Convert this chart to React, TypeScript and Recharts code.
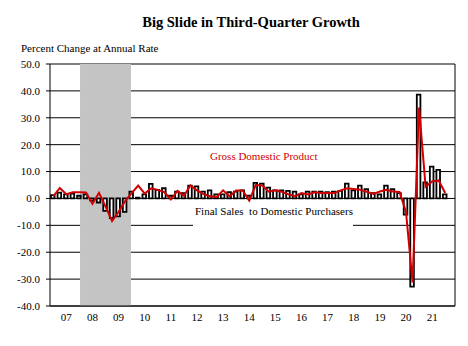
import React from "react";
import {
  ComposedChart,
  Bar,
  Line,
  XAxis,
  YAxis,
  CartesianGrid,
  ReferenceArea,
  ReferenceLine,
} from "recharts";

// Quarters on the category axis (last one left empty, as in the reference)
const quarters = [
  "2006Q3", "2006Q4",
  "2007Q1", "2007Q2", "2007Q3", "2007Q4",
  "2008Q1", "2008Q2", "2008Q3", "2008Q4",
  "2009Q1", "2009Q2", "2009Q3", "2009Q4",
  "2010Q1", "2010Q2", "2010Q3", "2010Q4",
  "2011Q1", "2011Q2", "2011Q3", "2011Q4",
  "2012Q1", "2012Q2", "2012Q3", "2012Q4",
  "2013Q1", "2013Q2", "2013Q3", "2013Q4",
  "2014Q1", "2014Q2", "2014Q3", "2014Q4",
  "2015Q1", "2015Q2", "2015Q3", "2015Q4",
  "2016Q1", "2016Q2", "2016Q3", "2016Q4",
  "2017Q1", "2017Q2", "2017Q3", "2017Q4",
  "2018Q1", "2018Q2", "2018Q3", "2018Q4",
  "2019Q1", "2019Q2", "2019Q3", "2019Q4",
  "2020Q1", "2020Q2", "2020Q3", "2020Q4",
  "2021Q1", "2021Q2", "2021Q3", "2021Q4",
];

// Gross Domestic Product, % change at annual rate (red line)
const gdp = [
  0.8, 3.9,
  1.6, 2.3, 2.3, 2.2,
  -2.0, 2.1, -3.0, -8.4,
  -5.0, -1.0, 2.0, 4.8,
  1.8, 3.8, 3.2, 2.4,
  -0.4, 2.8, 1.0, 4.8,
  3.0, 1.6, 0.8, 0.5,
  3.0, 0.8, 3.0, 3.0,
  -0.8, 5.0, 4.8, 2.5,
  3.0, 2.5, 1.5, 0.8,
  2.0, 1.5, 2.3, 2.0,
  2.0, 2.0, 3.0, 3.8,
  3.5, 3.2, 2.5, 1.7,
  2.6, 3.2, 2.6, 2.4,
  -5.0, -31.2, 33.8, 4.3,
  6.3, 6.7, 2.0, null,
];

// Final Sales to Domestic Purchasers, % change at annual rate (bars)
const finalSales = [
  1.2, 2.2,
  1.5, 1.8, 1.0, 1.5,
  -0.8, -1.5, -4.6, -7.3,
  -6.7, -5.0, 2.5, 0.3,
  1.5, 5.4, 3.2, 3.8,
  1.0, 2.5, 2.0, 4.8,
  4.5, 2.5, 3.0, 1.5,
  1.5, 2.3, 2.5, 3.0,
  1.0, 5.8, 5.5, 4.0,
  3.0, 3.0, 2.8, 2.5,
  1.5, 2.5, 2.5, 2.5,
  2.3, 2.5, 2.8, 5.5,
  3.0, 4.8, 3.5, 2.0,
  1.5, 4.8, 3.5, 2.0,
  -6.0, -32.8, 38.6, 6.0,
  11.8, 10.6, 1.5, null,
];

const yTicks = [-40, -30, -20, -10, 0, 10, 20, 30, 40, 50];

// Recession shading, in quarter-index units
const recessionFrom = 4.1;
const recessionTo = 11.9;

const data = quarters.map((q, i) => ({ i, q, gdp: gdp[i], fs: finalSales[i] }));
const xTicks = quarters
  .map((q, i) => (q.endsWith("Q1") ? i : -1))
  .filter((i) => i >= 0);

const FONT = "'Liberation Serif', 'Times New Roman', serif";

export default function App() {
  return (
    <div
      style={{
        position: "absolute",
        left: 0,
        top: 0,
        width: 468,
        height: 346,
        background: "#fff",
        fontFamily: FONT,
        color: "#000",
      }}
    >
      <ComposedChart
        width={468}
        height={346}
        data={data}
        margin={{ top: 64, right: 13, bottom: 20, left: 0 }}
      >
        <CartesianGrid vertical={false} stroke="#000" strokeWidth={1} />
        <ReferenceArea
          x1={recessionFrom}
          x2={recessionTo}
          y1={-40}
          y2={50}
          fill="#c4c4c4"
          fillOpacity={1}
          stroke="none"
          ifOverflow="visible"
        />
        <XAxis
          dataKey="i"
          type="number"
          domain={[-0.5, quarters.length - 0.5]}
          ticks={xTicks}
          tickFormatter={(v: number) => quarters[v].slice(2, 4)}
          tickLine={false}
          axisLine={{ stroke: "#000" }}
          tickMargin={1}
          height={20}
          interval={0}
          tick={{ fontSize: 11, fontFamily: FONT, fill: "#000" }}
          allowDataOverflow
        />
        <YAxis
          domain={[-40, 50]}
          ticks={yTicks}
          tickFormatter={(v: number) => v.toFixed(1)}
          width={50}
          tickSize={4}
          tickMargin={6}
          tickLine={{ stroke: "#000" }}
          axisLine={{ stroke: "#000" }}
          interval={0}
          tick={{ fontSize: 11, fontFamily: FONT, fill: "#000" }}
          allowDataOverflow
        />
        <ReferenceLine x={quarters.length - 0.5} stroke="#000" ifOverflow="visible" />
        <Bar
          dataKey="fs"
          barSize={3.6}
          fill="#fff"
          stroke="#000"
          strokeWidth={1.8}
          isAnimationActive={false}
        />
        <Line
          dataKey="gdp"
          type="linear"
          stroke="#d00000"
          strokeWidth={2}
          dot={false}
          isAnimationActive={false}
        />
      </ComposedChart>

      <div
        style={{
          position: "absolute",
          left: 0,
          width: 502,
          top: 14,
          textAlign: "center",
          fontWeight: "bold",
          fontSize: 14.5,
          lineHeight: "17px",
          whiteSpace: "nowrap",
        }}
      >
        Big Slide in Third-Quarter Growth
      </div>
      <div
        style={{
          position: "absolute",
          left: 21,
          top: 42,
          fontSize: 11,
          lineHeight: "13px",
          whiteSpace: "nowrap",
        }}
      >
        Percent Change at Annual Rate
      </div>
      <div
        style={{
          position: "absolute",
          left: 210,
          top: 150,
          fontSize: 11,
          lineHeight: "13px",
          color: "#d00000",
          whiteSpace: "nowrap",
        }}
      >
        Gross Domestic Product
      </div>
      <div
        style={{
          position: "absolute",
          left: 193,
          top: 205,
          width: 160,
          height: 22,
          paddingLeft: 2,
          boxSizing: "border-box",
          background: "#fff",
          fontSize: 11,
          lineHeight: "13px",
          whiteSpace: "pre",
        }}
      >
        {"Final Sales  to Domestic Purchasers"}
      </div>
    </div>
  );
}
